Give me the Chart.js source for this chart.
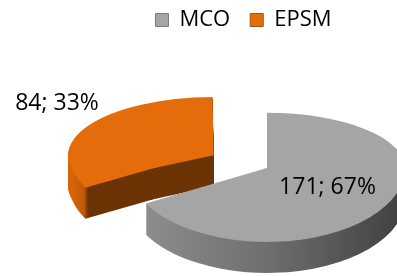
<!DOCTYPE html>
<html>
<head>
<meta charset="utf-8">
<script src="https://cdn.jsdelivr.net/npm/chart.js@4.4.0/dist/chart.umd.min.js"></script>
<style>
html, body { margin: 0; padding: 0; background: #fff; }
canvas { display: block; }
</style>
</head>
<body>
<canvas id="chart" width="397" height="276"></canvas>
<script>
// 데이터
const categories = ['MCO', 'EPSM'];
const values = [171, 84];

// 색상
const topColors = ['#a5a5a5', '#e46c0a'];
const legendBorders = ['#7a7a7a', '#a94e05'];
const explode = [0, 248];

// 3D 파이 모양 (Excel 원근 흉내: 위쪽 반은 더 납작하게)
const PIE_CX = 267, PIE_CY = 168, PIE_R = 138, DEPTH = 31;
const TILT_TOP = 0.4, TILT_BOTTOM = 0.536;
const labelRadius = [0.51, 1.77];
const labelShiftY = [0, -15];

// 옆면 색 (화면 x 기준 그라데이션)
function sideFill(ctx, i, arc) {
    const mid = (arc.startAngle + arc.endAngle) / 2;
    const shift = (PIE_CX - arc.x) + Math.cos(mid) * (arc.options.offset || 0) / 4;
    let g;
    if (i === 0) {
        g = ctx.createLinearGradient(140 - shift, 0, 397 - shift, 0);
        g.addColorStop(0, '#8e8e8e');
        g.addColorStop(0.5, '#6e6e6e');
        g.addColorStop(1, '#424242');
    } else {
        g = ctx.createLinearGradient(72 - shift, 0, 92 - shift, 0);
        g.addColorStop(0, '#d8640a');
        g.addColorStop(0.6, '#c05a08');
        g.addColorStop(0.8, '#6b3304');
        g.addColorStop(1, '#6b3304');
    }
    return g;
}

// 위/아래 반쪽을 다른 기울기로 그림
function drawHalf(chart, arc, d, top, fill) {
    const ctx = chart.ctx;
    const tilt = top ? TILT_TOP : TILT_BOTTOM;
    const seam = PIE_CY + d;
    ctx.save();
    ctx.beginPath();
    if (top) ctx.rect(0, -1000, chart.width, seam + 1000 + 0.5);
    else ctx.rect(0, seam - 0.5, chart.width, 1000);
    ctx.clip();
    ctx.translate(PIE_CX - arc.x, seam - tilt * arc.y);
    ctx.scale(1, tilt);
    const orig = arc.options;
    arc.options = Object.assign({}, orig, {
        backgroundColor: fill === null ? orig.backgroundColor : fill,
        borderWidth: 0
    });
    arc.draw(ctx);
    arc.options = orig;
    ctx.restore();
}

const pie3d = {
    id: 'pie3d',
    beforeDatasetsDraw(chart) {
        const arcs = chart.getDatasetMeta(0).data;
        // 뒤쪽 조각(EPSM)부터 그림
        [1, 0].forEach(i => {
            const arc = arcs[i];
            for (let d = DEPTH; d >= 0; d--) {
                const fill = d === 0 ? null : sideFill(chart.ctx, i, arc);
                drawHalf(chart, arc, d, true, fill);
                drawHalf(chart, arc, d, false, fill);
            }
        });
        return false;
    },
    afterDraw(chart) {
        const ctx = chart.ctx;
        const arcs = chart.getDatasetMeta(0).data;
        const total = values.reduce((a, b) => a + b, 0);
        ctx.save();
        ctx.font = '23px "Open Sans"';
        ctx.fillStyle = '#000';
        ctx.textAlign = 'center';
        ctx.textBaseline = 'middle';
        arcs.forEach((arc, i) => {
            const mid = (arc.startAngle + arc.endAngle) / 2;
            const r = labelRadius[i] * PIE_R;
            const dy = Math.sin(mid) * r;
            const x = PIE_CX + Math.cos(mid) * r;
            const y = PIE_CY + dy * (dy < 0 ? TILT_TOP : TILT_BOTTOM) + labelShiftY[i];
            ctx.fillText(values[i] + '; ' + Math.round(values[i] / total * 100) + '%', x, y);
        });
        ctx.restore();
    }
};

new Chart(document.getElementById('chart'), {
    type: 'pie',
    data: {
        labels: categories,
        datasets: [{
            data: values,
            backgroundColor: topColors,
            borderWidth: 0,
            offset: explode,
            radius: PIE_R,
            clip: false
        }]
    },
    options: {
        responsive: false,
        animation: false,
        cutout: '0%',
        radius: PIE_R,
        layout: { padding: { top: -11, left: 90, right: 0, bottom: -60 } },
        plugins: {
            tooltip: { enabled: false },
            legend: {
                position: 'top',
                labels: {
                    boxWidth: 13,
                    boxHeight: 13,
                    padding: 20,
                    color: '#000',
                    font: { family: 'Open Sans', size: 22 },
                    generateLabels(chart) {
                        const items = Chart.overrides.doughnut.plugins.legend.labels.generateLabels(chart);
                        items.forEach((it, i) => {
                            it.strokeStyle = legendBorders[i];
                            it.lineWidth = 1;
                        });
                        return items;
                    }
                }
            }
        }
    },
    plugins: [pie3d]
});
</script>
</body>
</html>
